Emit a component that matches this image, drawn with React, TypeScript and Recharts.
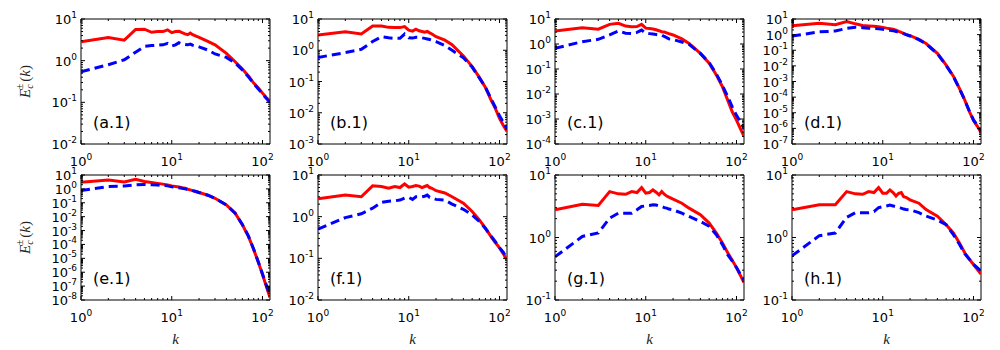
import { LineChart, Line, XAxis, YAxis, ReferenceArea } from "recharts";

// wavenumbers shared by every panel
const kValues = [1, 2, 3, 4, 5, 6, 7, 8, 9, 10, 11, 12, 13, 14, 15, 16, 17, 18, 20, 25, 30, 40, 50, 60, 70, 80, 90, 100, 110, 121];

// E_c^+ (red, solid) and E_c^- (blue, dashed) per panel
const aRed = [2.85, 3.6, 3.1, 5.6, 5.7, 4.8, 5.0, 5.0, 5.5, 4.7, 5.0, 5.1, 4.7, 4.4, 4.2, 4.6, 4.2, 4.0, 3.6, 2.9, 2.4, 1.5, 0.94, 0.63, 0.43, 0.29, 0.22, 0.166, 0.13, 0.105];
const aBlue = [0.54, 0.8, 1.05, 1.6, 2.2, 2.3, 2.35, 2.4, 2.6, 2.25, 2.4, 2.7, 2.5, 2.45, 2.4, 2.5, 2.35, 2.3, 2.15, 1.8, 1.45, 1.2, 0.88, 0.6, 0.41, 0.28, 0.21, 0.16, 0.125, 0.1];
const bRed = [3.07, 3.9, 3.3, 6.0, 6.0, 5.4, 5.3, 5.3, 5.7, 4.4, 4.1, 4.7, 4.2, 4.0, 3.8, 4.0, 3.6, 3.3, 2.7, 2.1, 1.5, 0.66, 0.3, 0.135, 0.065, 0.027, 0.0138, 0.0066, 0.004, 0.0025];
const bBlue = [0.59, 0.84, 1.07, 1.9, 2.7, 2.5, 2.4, 2.4, 3.3, 2.5, 2.45, 2.6, 2.6, 2.5, 2.4, 2.3, 2.2, 2.1, 1.9, 1.4, 1.0, 0.58, 0.29, 0.13, 0.065, 0.03, 0.015, 0.008, 0.005, 0.003];
const cRed = [3.3, 4.5, 3.9, 6.1, 6.7, 5.2, 4.9, 5.0, 6.1, 4.3, 4.2, 4.0, 3.7, 3.4, 3.1, 3.0, 2.8, 2.6, 2.3, 1.6, 1.06, 0.42, 0.17, 0.058, 0.0196, 0.0057, 0.0019, 0.0009, 0.00042, 0.0002];
const cBlue = [0.67, 1.24, 1.54, 2.3, 3.3, 2.7, 2.6, 2.9, 3.6, 2.7, 2.6, 2.5, 2.4, 2.3, 2.3, 2.0, 1.8, 1.6, 1.5, 1.2, 0.96, 0.42, 0.18, 0.063, 0.022, 0.0078, 0.003, 0.0014, 0.0008, 0.00042];
const dRed = [3.7, 5.3, 4.3, 6.8, 4.9, 3.9, 3.6, 3.4, 3.2, 2.9, 2.6, 2.4, 2.2, 1.9, 1.6, 1.4, 1.2, 1.05, 0.85, 0.5, 0.27, 0.063, 0.011, 0.0022, 3.6e-4, 6.6e-5, 1.2e-5, 3.2e-6, 1.4e-6, 5.4e-7];
const dBlue = [0.8, 1.5, 1.7, 2.5, 3.0, 2.8, 2.6, 2.5, 2.4, 2.2, 2.0, 1.9, 1.8, 1.6, 1.4, 1.3, 1.15, 1.0, 0.82, 0.48, 0.26, 0.06, 0.0105, 0.0021, 3.5e-4, 6.5e-5, 1.3e-5, 3.5e-6, 1.6e-6, 7e-7];
const eRed = [3.0, 4.4, 3.2, 4.9, 3.4, 2.9, 2.5, 2.2, 1.9, 1.6, 1.5, 1.35, 1.2, 1.1, 0.95, 0.85, 0.75, 0.68, 0.55, 0.35, 0.21, 0.071, 0.018, 0.0026, 3.8e-4, 4.3e-5, 5.2e-6, 6.9e-7, 1e-7, 1.5e-8];
const eBlue = [0.76, 1.46, 1.6, 2.0, 2.1, 2.0, 1.9, 1.8, 1.65, 1.4, 1.3, 1.2, 1.1, 1.0, 0.92, 0.85, 0.75, 0.68, 0.55, 0.35, 0.21, 0.07, 0.018, 0.0027, 4e-4, 4.5e-5, 5.5e-6, 7.5e-7, 1.2e-7, 2e-8];
const fRed = [2.7, 3.3, 3.0, 5.5, 5.3, 4.8, 5.3, 5.0, 6.1, 5.1, 5.3, 5.6, 5.4, 5.0, 5.3, 5.6, 5.0, 4.8, 4.2, 3.7, 3.0, 2.1, 1.33, 0.84, 0.53, 0.34, 0.24, 0.178, 0.13, 0.09];
const fBlue = [0.5, 0.95, 1.17, 1.6, 2.2, 2.35, 2.4, 2.5, 2.8, 2.9, 2.6, 3.0, 3.0, 3.0, 3.1, 3.3, 2.9, 2.8, 2.6, 2.5, 2.0, 1.5, 1.1, 0.77, 0.52, 0.35, 0.25, 0.18, 0.14, 0.1];
const gRed = [2.77, 3.41, 3.25, 5.43, 4.99, 4.92, 5.43, 5.24, 6.28, 5.11, 5.24, 5.77, 5.3, 4.81, 5.43, 4.92, 4.6, 4.42, 4.1, 3.54, 2.95, 2.31, 1.7, 1.18, 0.82, 0.57, 0.43, 0.33, 0.25, 0.19];
const gBlue = [0.49, 1.04, 1.18, 2.04, 2.45, 2.45, 2.45, 2.77, 3.13, 3.21, 3.25, 3.33, 3.3, 3.2, 3.13, 3.0, 2.95, 2.85, 2.77, 2.45, 2.17, 1.81, 1.51, 1.11, 0.77, 0.53, 0.42, 0.33, 0.26, 0.21];
const hRed = [2.77, 3.33, 3.33, 5.43, 4.99, 4.92, 5.43, 5.24, 6.28, 5.11, 5.11, 5.77, 5.24, 4.6, 5.11, 5.24, 4.5, 4.4, 4.0, 3.54, 2.8, 2.2, 1.6, 1.18, 0.82, 0.57, 0.45, 0.37, 0.31, 0.26];
const hBlue = [0.51, 1.07, 1.18, 2.1, 2.5, 2.5, 2.5, 2.6, 3.0, 3.1, 3.2, 3.3, 3.2, 3.1, 3.0, 2.95, 2.85, 2.8, 2.77, 2.5, 2.2, 1.9, 1.6, 1.11, 0.78, 0.55, 0.45, 0.37, 0.33, 0.29];

const panelTags = ["(a.1)", "(b.1)", "(c.1)", "(d.1)", "(e.1)", "(f.1)", "(g.1)", "(h.1)"];
const redSeries = [aRed, bRed, cRed, dRed, eRed, fRed, gRed, hRed];
const blueSeries = [aBlue, bBlue, cBlue, dBlue, eBlue, fBlue, gBlue, hBlue];
const yMinExponents = [-2, -3, -4, -7, -8, -2, -1, -1];
const yMaxExponent = 1;
const xMinExponent = 0;
const xMaxExponent = 2;
const kMax = 121;

const PLOT_W = 189;
const PLOT_H = 125;
const FONT = "DejaVu Sans, sans-serif";
const MATH = "Liberation Serif, serif";

function logTicks(minExp: number, maxExp: number, limit: number) {
  const out: number[] = [];
  for (let e = minExp; e <= maxExp; e++) {
    for (let m = 1; m <= 9; m++) {
      const v = m * Math.pow(10, e);
      if (v <= limit * 1.0000001) out.push(v);
    }
  }
  return out;
}

function splitTick(v: number) {
  const e = Math.floor(Math.log10(v) + 1e-9);
  const m = v / Math.pow(10, e);
  return { e, major: Math.abs(m - 1) < 1e-6 };
}

function YTick(props: any) {
  const { x, y, payload } = props;
  const { e, major } = splitTick(payload.value);
  const len = major ? 4 : 2;
  return (
    <g>
      <line x1={x} x2={x + len} y1={y} y2={y} stroke="#000" />
      <line x1={x + PLOT_W} x2={x + PLOT_W - len} y1={y} y2={y} stroke="#000" />
      {major && (
        <text x={x - 4} y={y + 5} textAnchor="end" fontSize={13} fontFamily={FONT} fill="#000">
          10<tspan dy={-6} fontSize={9}>{e}</tspan>
        </text>
      )}
    </g>
  );
}

function XTick(props: any) {
  const { x, y, payload } = props;
  const { e, major } = splitTick(payload.value);
  const len = major ? 4 : 2;
  return (
    <g>
      <line x1={x} x2={x} y1={y} y2={y - len} stroke="#000" />
      <line x1={x} x2={x} y1={y - PLOT_H} y2={y - PLOT_H + len} stroke="#000" />
      {major && (
        <text x={x} y={y + 22} textAnchor="middle" fontSize={13} fontFamily={FONT} fill="#000">
          10<tspan dy={-6} fontSize={9}>{e}</tspan>
        </text>
      )}
    </g>
  );
}

function PanelText(props: any) {
  const { viewBox, tag, showY, showX } = props;
  const { x, y, width, height } = viewBox;
  return (
    <g>
      <text x={x + 12} y={y + height - 16} fontSize={16} fontFamily={FONT} fill="#000">
        {tag}
      </text>
      {showY && (
        <text
          transform={`translate(${x - 51},${y + height / 2}) rotate(-90)`}
          textAnchor="middle"
          fontSize={15}
          fontFamily={MATH}
          fill="#222"
        >
          <tspan fontStyle="italic">E</tspan>
          <tspan fontStyle="italic" fontSize={10} dy={3}>c</tspan>
          <tspan fontSize={10} dx={-5} dy={-10}>±</tspan>
          <tspan dx={2} dy={7}>(</tspan>
          <tspan fontStyle="italic">k</tspan>
          <tspan>)</tspan>
        </text>
      )}
      {showX && (
        <text x={x + width / 2} y={y + height + 44} textAnchor="middle" fontSize={15} fontStyle="italic" fontFamily={MATH} fill="#222">
          k
        </text>
      )}
    </g>
  );
}

function Panel({ index }: { index: number }) {
  const data = kValues.map((k, i) => ({ k, plus: redSeries[index][i], minus: blueSeries[index][i] }));
  const yMin = Math.pow(10, yMinExponents[index]);
  const yMax = Math.pow(10, yMaxExponent);
  const yTicks = logTicks(yMinExponents[index], yMaxExponent, yMax);
  const xTicks = logTicks(xMinExponent, xMaxExponent, kMax);
  const row = Math.floor(index / 4);
  const col = index % 4;
  return (
    <div style={{ position: "absolute", left: 10.5 + col * 237, top: row === 0 ? 4 : 160 }}>
      <LineChart width={269} height={190} data={data} margin={{ top: 15, right: 10, bottom: 0, left: 10 }}>
        <XAxis
          dataKey="k"
          type="number"
          scale="log"
          domain={[1, kMax]}
          ticks={xTicks}
          interval={0}
          allowDataOverflow
          height={50}
          axisLine={false}
          tickLine={false}
          tickSize={0}
          tickMargin={0}
          tick={(p: any) => <XTick {...p} />}
        />
        <YAxis
          type="number"
          scale="log"
          domain={[yMin, yMax]}
          ticks={yTicks}
          interval={0}
          allowDataOverflow
          width={60}
          axisLine={false}
          tickLine={false}
          tickSize={0}
          tickMargin={0}
          tick={(p: any) => <YTick {...p} />}
        />
        <ReferenceArea
          x1={1}
          x2={kMax}
          y1={yMin}
          y2={yMax}
          fill="none"
          fillOpacity={0}
          stroke="#000"
          strokeWidth={1}
          label={(p: any) => <PanelText {...p} tag={panelTags[index]} showY={col === 0} showX={row === 1} />}
        />
        <Line type="linear" dataKey="plus" stroke="#ff0000" strokeWidth={3} dot={false} isAnimationActive={false} />
        <Line type="linear" dataKey="minus" stroke="#0000ff" strokeWidth={3} strokeDasharray="9 5" dot={false} isAnimationActive={false} />
      </LineChart>
    </div>
  );
}

export default function App() {
  return (
    <div style={{ position: "absolute", left: 0, top: 0, width: 1000, height: 350, background: "#fff" }}>
      {panelTags.map((_, i) => (
        <Panel key={i} index={i} />
      ))}
    </div>
  );
}
